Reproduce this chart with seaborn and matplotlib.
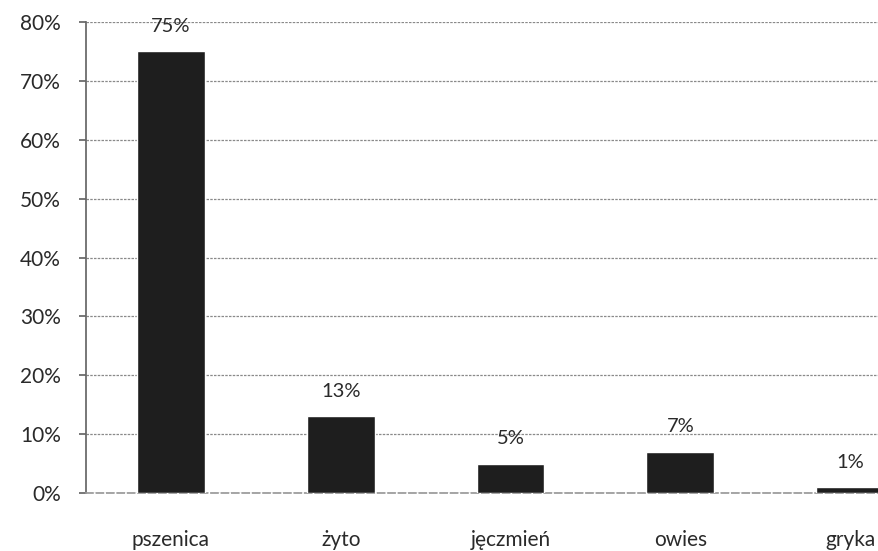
import matplotlib
matplotlib.use("Agg")
import matplotlib.pyplot as plt
import seaborn as sns
import pandas as pd
from matplotlib.ticker import FuncFormatter

# Share of cereal crops (percent)
crops = ["pszenica", "żyto", "jęczmień", "owies", "gryka"]
shares = [75, 13, 5, 7, 1]
share_labels = ["75%", "13%", "5%", "7%", "1%"]
y_ticks = [0, 10, 20, 30, 40, 50, 60, 70, 80]

df = pd.DataFrame({"crop": crops, "share": shares})

sns.set_theme(style="white")
plt.rcParams["font.family"] = ["Lato", "DejaVu Sans"]

fig = plt.figure(figsize=(8.79, 5.51), dpi=100)
ax = fig.add_axes([86 / 879, 1 - 493 / 551, 1 - 86 / 879, (493 - 22) / 551])

sns.barplot(data=df, x="crop", y="share", color="#1e1e1e", width=0.4,
            saturation=1, ax=ax, zorder=3)

for patch, label in zip(ax.patches, share_labels):
    ax.annotate(label, (patch.get_x() + patch.get_width() / 2, patch.get_height()),
                xytext=(0, 18), textcoords="offset points",
                ha="center", va="center", fontsize=14.5, color="#2a2a2a")

ax.set_ylim(0, 80)
ax.set_xlim(-0.5, 4.17)
ax.set_yticks(y_ticks)
ax.yaxis.set_major_formatter(FuncFormatter(lambda v, _: f"{v:.0f}%"))
ax.grid(axis="y", color="#8a8a8a", linestyle=(0, (2, 1)), linewidth=0.9, zorder=0)
ax.set_axisbelow(True)

for side in ["top", "right"]:
    ax.spines[side].set_visible(False)
ax.spines["left"].set_color("#666666")
ax.spines["bottom"].set_color("#9a9a9a")
ax.spines["bottom"].set_linestyle((0, (4, 2)))

ax.tick_params(axis="y", left=True, length=5, color="#666666", labelsize=15,
               labelcolor="#2a2a2a", pad=13)
ax.tick_params(axis="x", bottom=False, labelsize=15, labelcolor="#2a2a2a", pad=21)
ax.set_xlabel("")
ax.set_ylabel("")

fig.savefig("out.png", dpi=100)
